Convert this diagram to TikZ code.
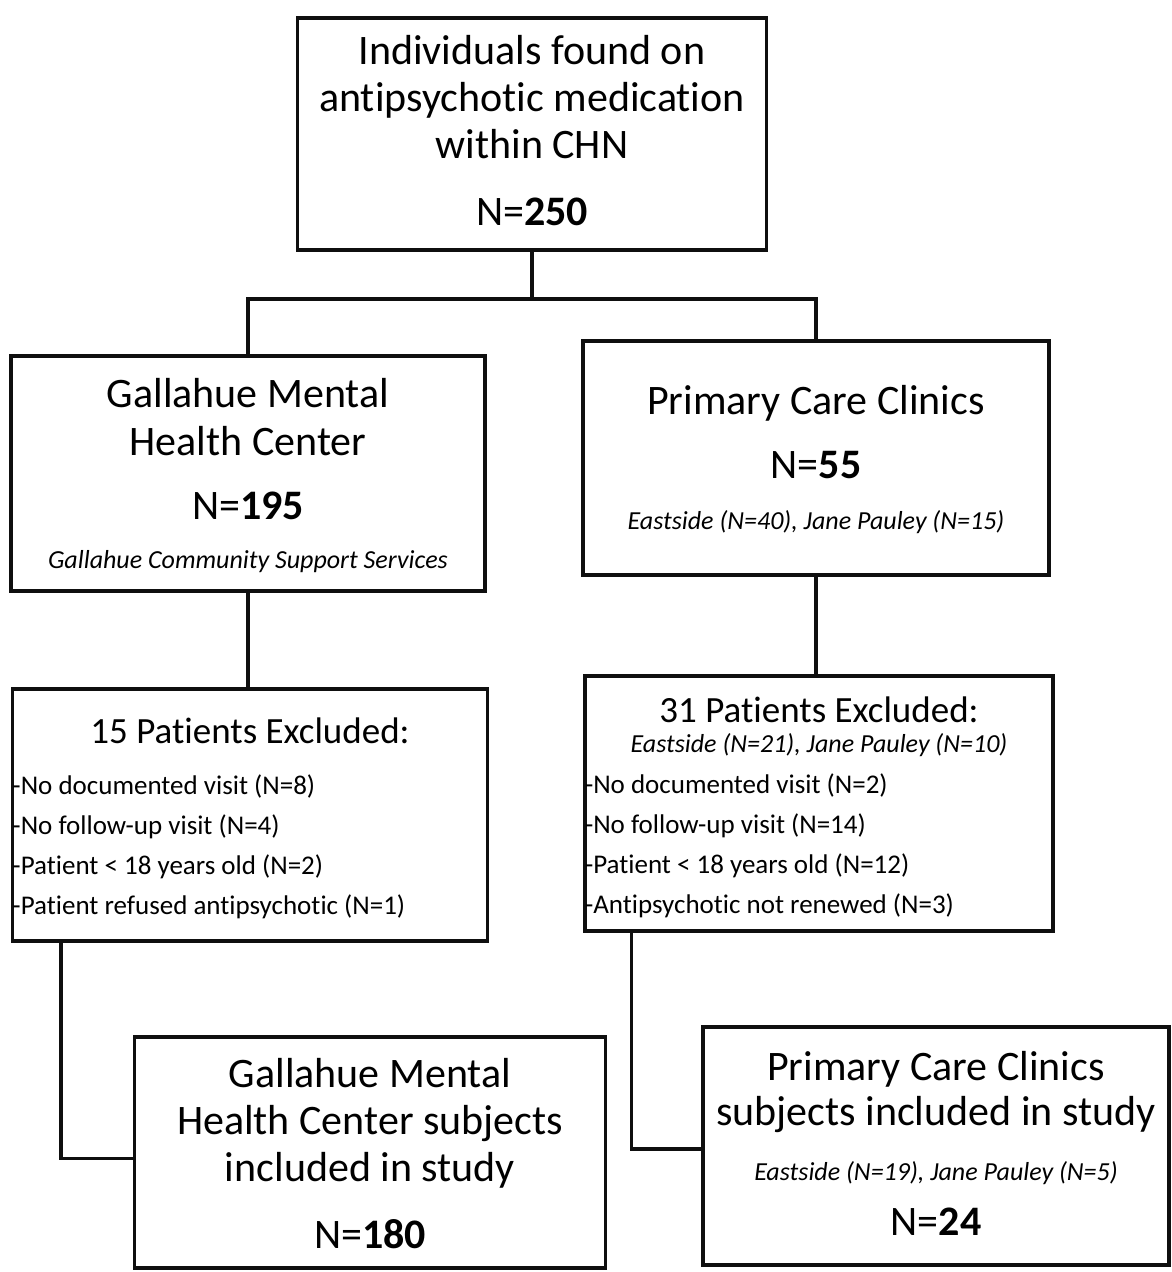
\documentclass[tikz,border=0pt]{standalone}
\usepackage{fontspec}
\setmainfont{Carlito}[Ligatures=NoCommon]
\usepackage{tikz}
\usetikzlibrary{positioning,calc}
\usepackage{xcolor}
\definecolor{ink}{RGB}{15,15,15}
\tikzset{
  box/.style={draw=ink,line width=3.4pt,inner sep=0pt,align=flush center},
  listbox/.style={box,align=flush left},
  link/.style={draw=ink,line width=3.4pt},
}
\newcommand{\wsp}{\spaceskip=0.226em\relax}
\newcommand{\bigtxt}{\fontsize{42}{47}\selectfont\wsp}
\newcommand{\midtxt}{\fontsize{42}{48}\selectfont\wsp}
\newcommand{\headtxt}{\fontsize{37}{44}\selectfont\wsp}
\newcommand{\itemtxt}{\fontsize{27}{40}\selectfont\wsp}
\newcommand{\notetxt}{\fontsize{26}{32}\selectfont\itshape\wsp}
\newcommand{\nval}[1]{N=\textbf{#1}}
\newcommand{\padtop}[1]{\rule{0pt}{#1pt}}
\newcommand{\padbot}[1]{\rule[-#1pt]{0pt}{0pt}\par}

\begin{document}
\begin{tikzpicture}[x=1pt,y=-1pt]
  \useasboundingbox (0,0) rectangle (1171,1272);

  % source population
  \node[box,text width=469pt] (chn) at (532,134)
     {\bigtxt\padtop{46}Individuals found on\\ antipsychotic medication\\ within CHN\\[20pt] \nval{250}\padbot{25}};

  % split by site
  \node[box,text width=474pt] (gmhc) at (248,473.5)
     {\midtxt\padtop{51}Gallahue Mental\\ Health Center\\[16pt] \nval{195}\\[1pt]
      {\notetxt Gallahue Community Support Services}\padbot{23}};
  \node[box,text width=466pt] (pcc) at (816,458)
     {\midtxt\padtop{73}Primary Care Clinics\\[16pt] \nval{55}\\[3pt]
      {\notetxt Eastside (N=40), Jane Pauley (N=15)}\padbot{46}};

  % exclusions
  \node[listbox,text width=475pt] (gexc) at (250,815)
     {\itemtxt\padtop{54}\makebox[\linewidth]{\headtxt 15 Patients Excluded:}\\[11pt]
      -No documented visit (N=8)\\
      -No follow-up visit (N=4)\\
      -Patient < 18 years old (N=2)\\
      -Patient refused antipsychotic (N=1)\padbot{27}};
  \node[listbox,text width=468pt] (pexc) at (819,803.5)
     {\itemtxt\padtop{46}\makebox[\linewidth]{\headtxt 31 Patients Excluded:}\\[-10pt]
      \makebox[\linewidth]{\notetxt Eastside (N=21), Jane Pauley (N=10)}\\[1pt]
      -No documented visit (N=2)\\
      -No follow-up visit (N=14)\\
      -Patient < 18 years old (N=12)\\
      -Antipsychotic not renewed (N=3)\padbot{18}};

  % included subjects
  \node[box,text width=471pt] (gin) at (370,1152.5)
     {\bigtxt\padtop{50}Gallahue Mental\\ Health Center subjects\\ included in study\\[20pt] \nval{180}\padbot{20}};
  \node[box,text width=466pt] (pin) at (936,1146)
     {\bigtxt\padtop{53}Primary Care Clinics\\[-2pt] subjects included in study\\[8pt]
      {\notetxt Eastside (N=19), Jane Pauley (N=5)}\\[8pt] \nval{24}\padbot{30}};

  % connectors
  \coordinate (split) at (532,299);
  \draw[link] (chn.south) -- (split);
  \draw[link] (gmhc.north) |- (split) -| (pcc.north);
  \draw[link] (gmhc.south) -- (gmhc.south |- gexc.north);
  \draw[link] (pcc.south) -- (pcc.south |- pexc.north);
  \draw[link] ([xshift=50pt]gexc.south west) |- ([yshift=-6pt]gin.west);
  \draw[link] ([xshift=48pt]pexc.south west) |- ([yshift=-3pt]pin.west);
\end{tikzpicture}
\end{document}
